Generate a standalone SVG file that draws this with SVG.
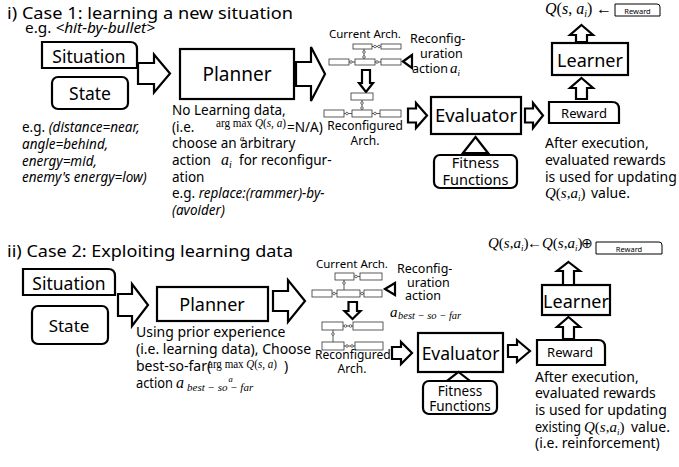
<svg xmlns="http://www.w3.org/2000/svg" width="679" height="467" viewBox="0 0 679 467">
<style>
.bx{fill:#fff;stroke:#000;stroke-width:2.2}
.ar{fill:#fff;stroke:#000;stroke-width:2.2;stroke-linejoin:miter}
.sm{fill:#fff;stroke:#333;stroke-width:0.8}
.ln{fill:none;stroke:#333;stroke-width:0.8}
.dot{fill:#fff;stroke:#333;stroke-width:0.7}
.s{font-family:"Noto Sans","Open Sans",sans-serif;fill:#000}
.m{font-family:"Liberation Serif","Times New Roman",serif;fill:#000;font-style:italic}
.mr{font-family:"Liberation Serif","Times New Roman",serif;fill:#000;font-style:normal}
.i{font-style:italic}
.c{text-anchor:middle}
</style>
<rect width="679" height="467" fill="#fff"/>

<!-- ===== Section 1 ===== -->
<text class="s" x="7" y="19" font-size="17" textLength="286" lengthAdjust="spacingAndGlyphs">i) Case 1: learning a new situation</text>
<text class="s" x="25" y="33" font-size="13.5" textLength="130" lengthAdjust="spacingAndGlyphs">e.g. <tspan class="i">&lt;hit-by-bullet&gt;</tspan></text>

<g id="situation1">
<path class="bx" d="M42,42 H130 Q137,42 137,49 V68 H42 Z"/>
<text class="s c" x="89" y="63" font-size="17.5">Situation</text>
</g>
<g id="state1">
<rect class="bx" x="52" y="77" width="76" height="32" rx="6"/>
<text class="s c" x="90" y="100" font-size="17.5">State</text>
</g>
<text class="s" x="22" y="132" font-size="13.5">e.g. <tspan class="i">(distance=near,</tspan></text>
<text class="s i" x="22" y="149" font-size="13.5">angle=behind,</text>
<text class="s i" x="22" y="166" font-size="13.5">energy=mid,</text>
<text class="s i" x="22" y="182" font-size="13.5">enemy's energy=low)</text>

<g id="planner1">
<rect class="bx" x="180" y="49" width="114" height="50"/>
<text class="s c" x="237" y="81" font-size="19">Planner</text>
</g>
<text class="s" x="172" y="115" font-size="13.5">No Learning data,</text>
<text class="s" x="172" y="132" font-size="13.5">(i.e.</text>
<text class="mr" x="216" y="127" font-size="12.5" textLength="70" lengthAdjust="spacingAndGlyphs">arg max <tspan class="m">Q</tspan>(<tspan class="m">s</tspan>, <tspan class="m">a</tspan>)</text>
<text class="m" x="240" y="141" font-size="8.5">a</text>
<text class="s" x="287" y="132" font-size="13.5">=N/A)</text>
<text class="s" x="172" y="148" font-size="13.5">choose an arbitrary</text>
<text class="s" x="172" y="165" font-size="13.5">action</text>
<text class="m" x="221" y="165" font-size="16">a<tspan font-size="10" dy="3">i</tspan></text>
<text class="s" x="239" y="165" font-size="13.5">for reconfigur-</text>
<text class="s" x="172" y="182" font-size="13.5">ation</text>
<text class="s" x="172" y="198" font-size="13.5">e.g. <tspan class="i">replace:(rammer)-by-</tspan></text>
<text class="s i" x="172" y="215" font-size="13.5">(avoider)</text>

<g id="arch1">
<text class="s" x="329" y="38" font-size="11.5">Current Arch.</text>
<rect class="sm" x="353" y="44" width="19" height="5"/>
<rect class="sm" x="381" y="44" width="20" height="5"/>
<rect class="sm" x="329" y="59" width="20" height="6"/>
<rect class="sm" x="355" y="59" width="20" height="6"/>
<rect class="sm" x="381" y="59" width="20" height="6"/>
<path class="ln" d="M372,46.5 H381 M364,49 V59 M349,62 H355 M375,62 H381"/>
<circle class="dot" cx="375" cy="46.5" r="1.3"/><circle class="dot" cx="379" cy="46.5" r="1.3"/>
<circle class="dot" cx="364" cy="52" r="1.3"/><circle class="dot" cx="364" cy="57" r="1.3"/>
<circle class="dot" cx="351" cy="62" r="1.3"/><circle class="dot" cx="377" cy="62" r="1.3"/>
<path class="ar" stroke-width="2" d="M362,70 H370 V83 H373 L366,92 L359,83 H362 Z"/>
<rect class="sm" x="351" y="93" width="22" height="7"/>
<rect class="sm" x="324" y="110" width="20" height="7"/>
<rect class="sm" x="352" y="110" width="20" height="7"/>
<rect class="sm" x="380" y="110" width="21" height="7"/>
<path class="ln" d="M362,100 V110 M344,113.5 H352 M372,113.5 H380"/>
<circle class="dot" cx="362" cy="103" r="1.3"/><circle class="dot" cx="362" cy="108" r="1.3"/>
<circle class="dot" cx="347" cy="113.5" r="1.3"/><circle class="dot" cx="375" cy="113.5" r="1.3"/>
<text class="s c" x="365" y="130" font-size="12">Reconfigured</text>
<text class="s c" x="365" y="145" font-size="12">Arch.</text>
<path class="ar" stroke-width="2" d="M403,61.5 L412,55 L412,68 Z"/>
<text class="s" x="410" y="43" font-size="12.5">Reconfig-</text>
<text class="s" x="420" y="58" font-size="12.5">uration</text>
<text class="s" x="412" y="73" font-size="12.5">action</text>
<text class="m" x="450" y="73" font-size="15">a<tspan font-size="9" dy="3">i</tspan></text>
</g>

<g id="evaluator1">
<rect class="bx" x="431" y="97" width="90" height="37"/>
<text class="s c" x="476" y="122" font-size="18.5">Evaluator</text>
</g>
<g id="fitness1">
<rect class="bx" x="434" y="155" width="83" height="33" rx="6"/>
<text class="s c" x="475.5" y="168" font-size="14.5">Fitness</text>
<text class="s c" x="475.5" y="185" font-size="14.5">Functions</text>
</g>
<g id="reward1">
<path class="bx" d="M549,102 H612 Q619,102 619,109 V123 H549 Z"/>
<text class="s c" x="584" y="118" font-size="13">Reward</text>
</g>
<g id="learner1">
<rect class="bx" x="552" y="43" width="76" height="32"/>
<text class="s c" x="590" y="67" font-size="18">Learner</text>
</g>
<text class="m" x="545" y="14" font-size="16">Q<tspan class="mr">(</tspan>s<tspan class="mr">, </tspan>a<tspan font-size="10" dy="3">i</tspan><tspan class="mr" dy="-3">)</tspan></text>
<text class="mr" x="596" y="14" font-size="16">←</text>
<g id="rewardTag1">
<path fill="#fff" stroke="#000" stroke-width="1" d="M615,4 H657 Q660,4 660,7 V16 H615 Z"/>
<text class="s c" x="637.5" y="13.5" font-size="7.5">Reward</text>
</g>
<text class="s" x="545" y="148" font-size="14">After execution,</text>
<text class="s" x="545" y="165" font-size="14">evaluated rewards</text>
<text class="s" x="545" y="182" font-size="14">is used for updating</text>
<text class="m" x="545" y="198" font-size="15">Q<tspan class="mr">(</tspan>s<tspan class="mr">,</tspan>a<tspan font-size="9" dy="3">i</tspan><tspan class="mr" dy="-3">)</tspan></text>
<text class="s" x="591" y="198" font-size="14">value.</text>

<g id="connectors1">
<path class="ar" d="M138,63 H154 V54.5 L170,73.5 L154,92.5 V84 H138 Z"/>
<path class="ar" d="M296,62 H311 V47 L325,74 L311,101 V86 H296 Z"/>
<path class="ar" d="M408,108.5 H416 V103 L427,115.5 L416,128 V122.5 H408 Z"/>
<path class="ar" d="M525,108.5 H533 V103 L543,115.5 L533,128 V122.5 H525 Z"/>
<path class="ar" d="M475.5,137 L488,153 H463 Z"/>
<path class="ar" d="M581.5,78 L593,88 H587 V99 H576 V88 H570 Z"/>
<path class="ar" d="M581.5,25 L593,35 H587 V42 H576 V35 H570 Z"/>
</g>

<!-- ===== Section 2 ===== -->
<text class="s" x="7" y="257" font-size="17" textLength="286" lengthAdjust="spacingAndGlyphs">ii) Case 2: Exploiting learning data</text>

<g id="situation2">
<path class="bx" d="M23,269 H108 Q115,269 115,276 V295 H23 Z"/>
<text class="s c" x="69" y="290" font-size="17.5">Situation</text>
</g>
<g id="state2">
<rect class="bx" x="32" y="306" width="76" height="38" rx="6"/>
<text class="s c" x="69" y="332" font-size="17">State</text>
</g>
<g id="planner2">
<rect class="bx" x="157" y="287" width="111" height="34"/>
<text class="s c" x="212" y="311" font-size="18">Planner</text>
</g>
<text class="s" x="136" y="337" font-size="14">Using prior experience</text>
<text class="s" x="136" y="354" font-size="14">(i.e. learning data), Choose</text>
<text class="s" x="136" y="371" font-size="14">best-so-far(</text>
<text class="mr" x="208" y="368" font-size="12.5" textLength="69" lengthAdjust="spacingAndGlyphs">arg max <tspan class="m">Q</tspan>(<tspan class="m">s</tspan>, <tspan class="m">a</tspan>)</text>
<text class="m" x="228.5" y="382" font-size="8.5">a</text>
<text class="s" x="284" y="371" font-size="14">)</text>
<text class="s" x="136" y="388" font-size="14" textLength="37" lengthAdjust="spacingAndGlyphs">action</text>
<text class="m" x="176" y="388" font-size="16">a</text>
<text class="m" x="187" y="391" font-size="11">best − so − far</text>

<g id="arch2">
<text class="s" x="316" y="268" font-size="11.5">Current Arch.</text>
<rect class="sm" x="335" y="273" width="19" height="7"/>
<rect class="sm" x="360" y="273" width="22" height="7"/>
<rect class="sm" x="312" y="290" width="20" height="7"/>
<rect class="sm" x="337" y="290" width="23" height="7"/>
<rect class="sm" x="364" y="290" width="18" height="7"/>
<path class="ln" d="M354,276.5 H360 M344,280 V290 M332,293.5 H337 M360,293.5 H364"/>
<circle class="dot" cx="356" cy="276.5" r="1.3"/><circle class="dot" cx="344" cy="283" r="1.3"/>
<circle class="dot" cx="334" cy="293.5" r="1.3"/><circle class="dot" cx="362" cy="293.5" r="1.3"/>
<path class="ar" stroke-width="2" d="M348.5,302 H357 V311 H360.5 L352.5,319 L344.5,311 H348.5 Z"/>
<rect class="sm" x="322" y="322" width="21" height="8"/>
<rect class="sm" x="353" y="322" width="30" height="8"/>
<rect class="sm" x="322" y="342" width="22" height="8"/>
<rect class="sm" x="355" y="342" width="28" height="8"/>
<path class="ln" d="M343,326 H353 M333,330 V342 M344,346 H355"/>
<circle class="dot" cx="345.5" cy="326" r="1.3"/><circle class="dot" cx="350.5" cy="326" r="1.3"/>
<circle class="dot" cx="333" cy="334" r="1.3"/><circle class="dot" cx="347" cy="346" r="1.3"/><circle class="dot" cx="352" cy="346" r="1.3"/>
<text class="s" x="315" y="359" font-size="12">Reconfigured</text>
<text class="s c" x="352" y="373" font-size="12">Arch.</text>
<path class="ar" stroke-width="2" d="M385,289 L395,283 L395,295 Z"/>
<text class="s" x="397" y="273" font-size="12.5">Reconfig-</text>
<text class="s" x="407" y="287" font-size="12.5">uration</text>
<text class="s" x="405" y="300" font-size="12.5">action</text>
<text class="m" x="390" y="317" font-size="15">a</text>
<text class="m" x="398" y="319" font-size="10.5">best − so − far</text>
</g>

<g id="evaluator2">
<rect class="bx" x="418" y="333" width="85" height="39"/>
<text class="s c" x="460.5" y="360" font-size="17.5">Evaluator</text>
</g>
<g id="fitness2">
<rect class="bx" x="423" y="381" width="74" height="33" rx="6"/>
<text class="s c" x="460" y="396" font-size="13.5">Fitness</text>
<text class="s c" x="460" y="411" font-size="13.5">Functions</text>
</g>
<g id="reward2">
<path class="bx" d="M537,340 H598 Q605,340 605,347 V365 H537 Z"/>
<text class="s c" x="570" y="357" font-size="13">Reward</text>
</g>
<g id="learner2">
<rect class="bx" x="542" y="285" width="68" height="30"/>
<text class="s c" x="576" y="308" font-size="18">Learner</text>
</g>
<text class="m" x="488" y="248" font-size="15">Q<tspan class="mr">(</tspan>s<tspan class="mr">,</tspan>a<tspan font-size="9" dy="3">i</tspan><tspan class="mr" dy="-3">)</tspan></text>
<text class="mr" x="527" y="248" font-size="15">←</text>
<text class="m" x="542" y="248" font-size="15">Q<tspan class="mr">(</tspan>s<tspan class="mr">,</tspan>a<tspan font-size="9" dy="3">i</tspan><tspan class="mr" dy="-3">)</tspan></text>
<text class="mr" x="581" y="248" font-size="14">⊕</text>
<g id="rewardTag2">
<path fill="#fff" stroke="#000" stroke-width="1" d="M596,242 H659 Q662,242 662,245 V254 H596 Z"/>
<text class="s c" x="629" y="251.5" font-size="7.5">Reward</text>
</g>
<text class="s" x="535" y="382" font-size="14">After execution,</text>
<text class="s" x="535" y="398" font-size="14">evaluated rewards</text>
<text class="s" x="535" y="415" font-size="14">is used for updating</text>
<text class="s" x="535" y="432" font-size="14" textLength="46" lengthAdjust="spacingAndGlyphs">existing</text>
<text class="m" x="584" y="432" font-size="15">Q<tspan class="mr">(</tspan>s<tspan class="mr">,</tspan>a<tspan font-size="9" dy="3">i</tspan><tspan class="mr" dy="-3">)</tspan></text>
<text class="s" x="631" y="432" font-size="14">value.</text>
<text class="s" x="535" y="448" font-size="14">(i.e. reinforcement)</text>

<g id="connectors2">
<path class="ar" d="M118,294 H132 V284 L148,305 L132,326 V316 H118 Z"/>
<path class="ar" d="M273,291 H288 V280 L305,301 L288,322 V311 H273 Z"/>
<path class="ar" d="M392,347 H401 V342 L412,353 L401,364 V359 H392 Z"/>
<path class="ar" d="M508,345 H517 V340 L530,351 L517,362 V357 H508 Z"/>
<path class="ar" d="M458.5,372 L470,381 H447 Z"/>
<path class="ar" d="M568.5,317 L580,327 H574 V339 H563 V327 H557 Z"/>
<path class="ar" d="M568.5,262 L580,271 H574 V285 H563 V271 H557 Z"/>
</g>
</svg>
